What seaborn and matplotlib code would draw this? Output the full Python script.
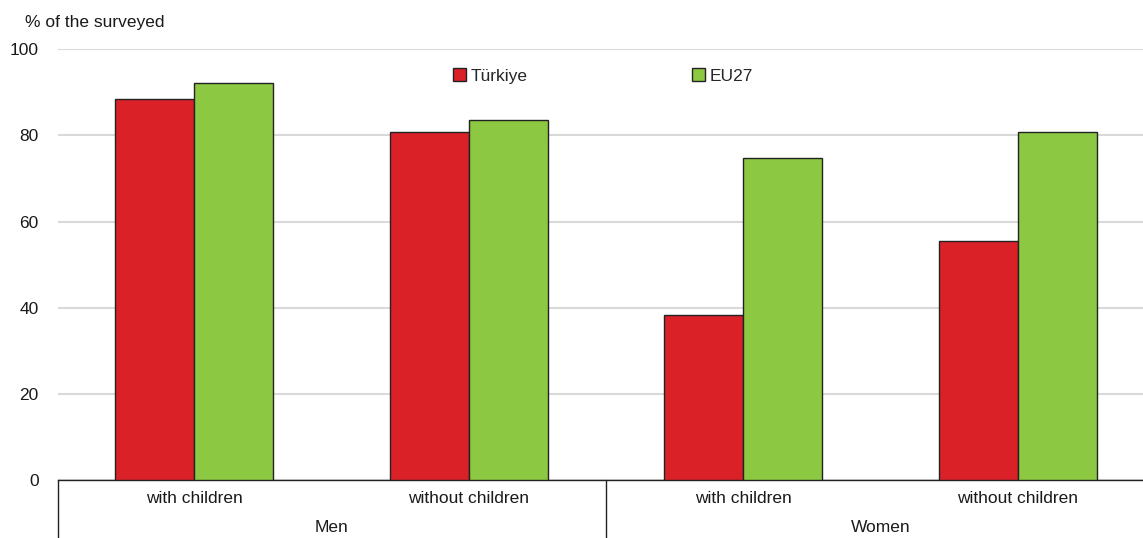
import matplotlib
matplotlib.use("Agg")
import matplotlib.pyplot as plt
import matplotlib.transforms as mtransforms
import seaborn as sns
import pandas as pd

# Share of employed people by sex and parental status
groups = ["Men", "Men", "Women", "Women"]
categories = ["with children", "without children", "with children", "without children"]
turkiye = [88.5, 80.8, 38.4, 55.6]
eu27 = [92.1, 83.5, 74.8, 80.9]
series = ["Türkiye", "EU27"]
colors = ["#DA2128", "#8CC841"]
yticks = [0, 20, 40, 60, 80, 100]

keys = [f"{g}|{c}" for g, c in zip(groups, categories)]
df = pd.DataFrame({
    "key": keys * 2,
    "value": turkiye + eu27,
    "series": [series[0]] * 4 + [series[1]] * 4,
})

sns.set_theme(style="white")
plt.rcParams["font.family"] = ["Liberation Sans", "DejaVu Sans"]

W, H = 1143, 538
fig = plt.figure(figsize=(W / 100, H / 100), dpi=100)
ax = fig.add_axes([58 / W, 58 / H, (W - 58) / W, (480 - 49.3) / H])

sns.barplot(data=df, x="key", y="value", hue="series", order=keys,
            hue_order=series, palette=colors, width=0.575, gap=0,
            edgecolor="#222222", linewidth=1.0, saturation=1, ax=ax,
            legend=False, zorder=3)

ax.set_xlim(-0.495, 3.455)
ax.set_ylim(0, 100)
ax.set_yticks(yticks)
ax.set_yticklabels([str(v) for v in yticks], fontsize=12.5, color="#1a1a1a")
ax.yaxis.grid(True, color="#D9D9D9", linewidth=1.5, zorder=0)
ax.xaxis.grid(False)
ax.set_axisbelow(True)
ax.tick_params(axis="y", length=0, pad=14)
ax.tick_params(axis="x", length=0, pad=8)
ax.set_xticks(range(4))
ax.set_xticklabels(categories, fontsize=12.5, color="#1a1a1a")
ax.set_xlabel("")
ax.set_ylabel("")
for s in ["top", "right", "left"]:
    ax.spines[s].set_visible(False)
ax.spines["bottom"].set_color("#222222")
ax.spines["bottom"].set_linewidth(1.0)

# Group labels and separators under the category axis
trans = mtransforms.blended_transform_factory(ax.transData, ax.transAxes)
px = 1.0 / ((480 - 49.3))
for xsep in [-0.495, 1.5, 3.5]:
    ax.plot([xsep, xsep], [0, -58 * px], transform=trans, color="#222222",
            linewidth=1.0, clip_on=False)
for name, xc in [("Men", 0.5), ("Women", 2.5)]:
    ax.text(xc, -48 * px, name, transform=trans, ha="center", va="center",
            fontsize=12.5, color="#1a1a1a")

# Legend
handles = [plt.Rectangle((0, 0), 1, 1, facecolor=c, edgecolor="#222222",
                         linewidth=1.0) for c in colors]
fig.legend(handles, series, loc="center", bbox_to_anchor=(603 / W, 1 - 76 / H),
           ncol=2, frameon=False, fontsize=12.5, handlelength=0.75,
           handleheight=0.75, handletextpad=0.3, columnspacing=9.45)

fig.text(25 / W, 1 - 22 / H, "% of the surveyed", ha="left", va="center",
         fontsize=12.5, color="#1a1a1a")

fig.savefig("out.png", dpi=100)
